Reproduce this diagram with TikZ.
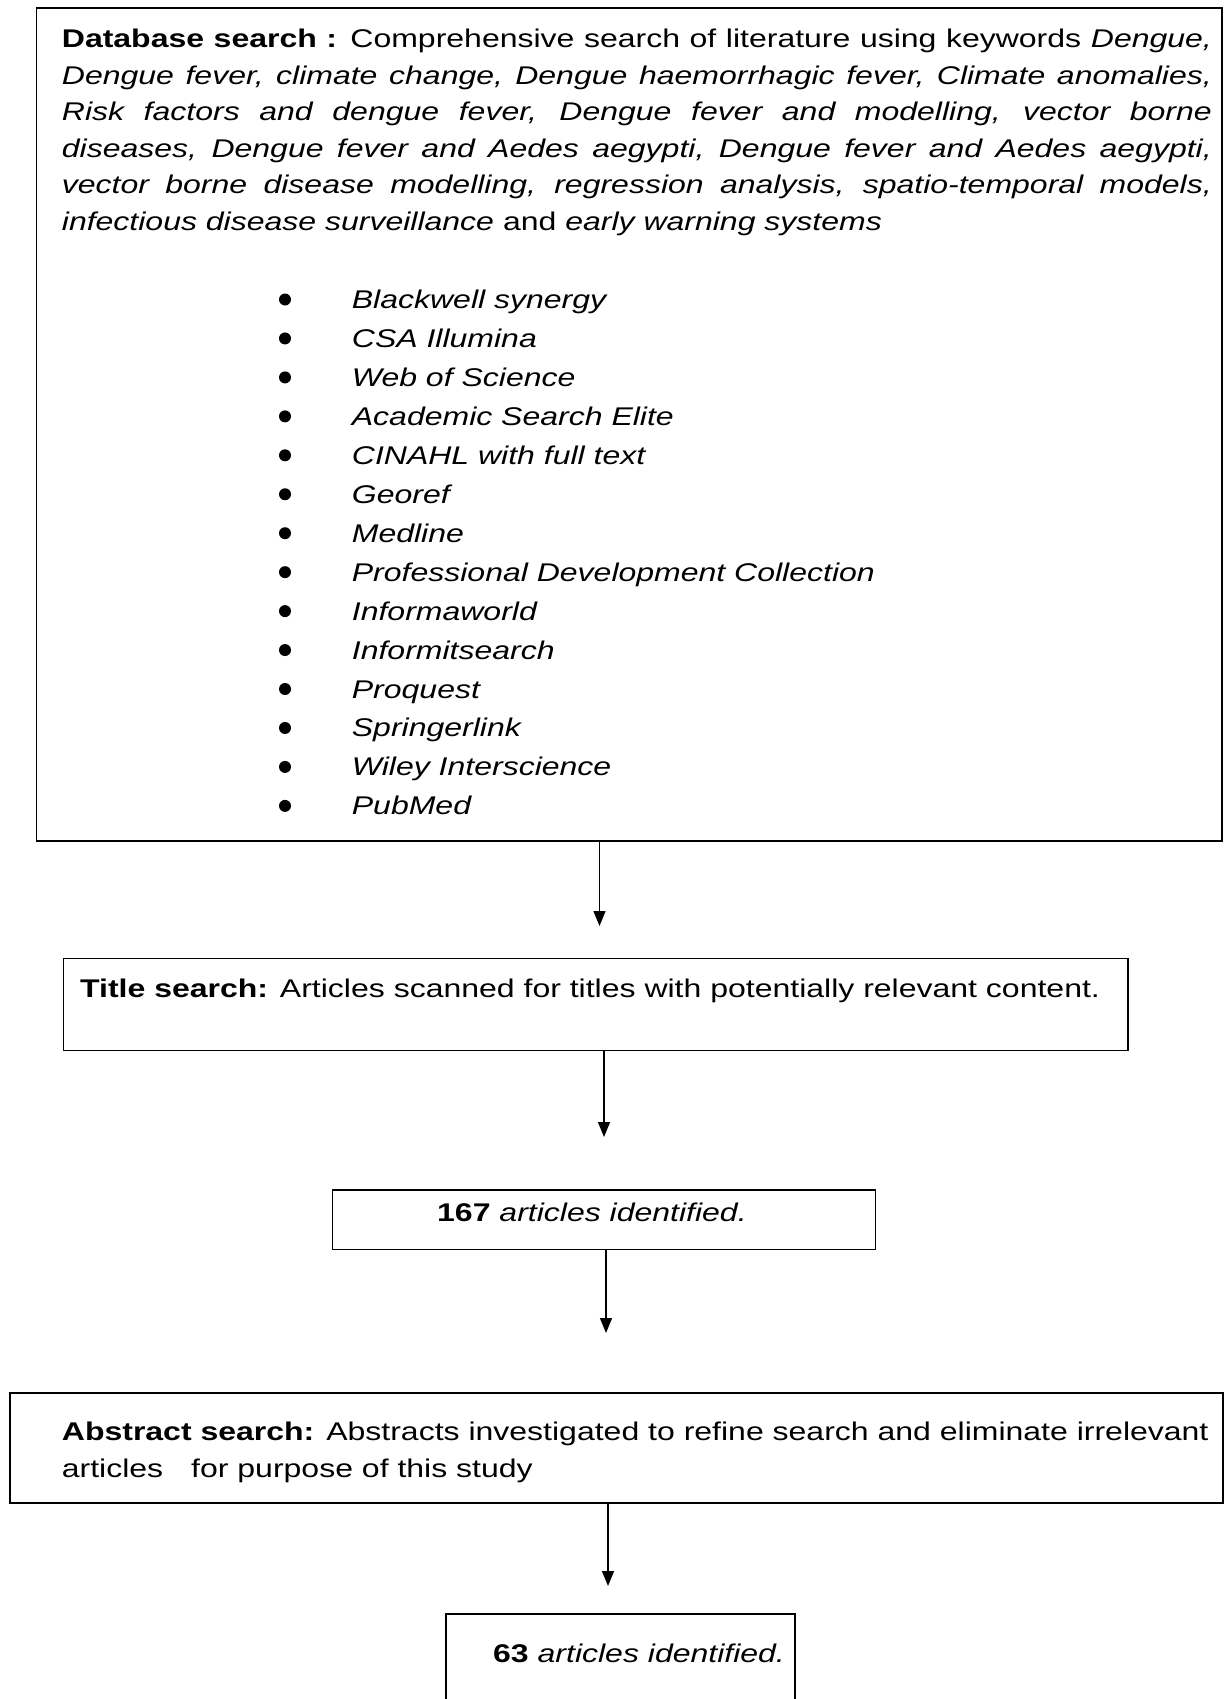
\documentclass[tikz,border=0pt]{standalone}
\usepackage{fontspec}
\setmainfont{Liberation Sans}[FakeStretch=1.25]
\usetikzlibrary{arrows.meta}
\begin{document}
\begin{tikzpicture}[x=1pt,y=-1pt,
  box/.style={draw=black,line width=1.6pt,inner sep=0pt,anchor=north west},
  arr/.style={line width=1.4pt,-{Triangle[length=15pt,width=12pt]}},
  txt/.style={inner sep=0pt,anchor=base west,font=\fontsize{25.6pt}{36.6pt}\selectfont}]
\useasboundingbox (0,0) rectangle (1224,1699);
\clip (0,0) rectangle (1224,1699);
\fill[white] (0,0) rectangle (1224,1699);
% boxes
\node[box,minimum width=1185.5pt,minimum height=833pt] (b1) at (35.5,7) {};
\node[box,minimum width=1064.5pt,minimum height=92pt] (b2) at (62.5,957.5) {};
\node[box,minimum width=543pt,minimum height=59.5pt] (b3) at (331.5,1189) {};
\node[box,minimum width=1213pt,minimum height=110pt] (b4) at (9,1392) {};
\node[box,minimum width=349pt,minimum height=130pt] (b5) at (445,1613) {};
% texts
\node[txt,text width=1150pt,align=justify] (p1) at (61.7,47.5)
 {\hyphenpenalty=10000\exhyphenpenalty=10000\tolerance=10000%
 \textbf{Database search :} Comprehensive search of literature using keywords \textit{Dengue,}\linebreak
 \textit{Dengue fever, climate change, Dengue haemorrhagic fever, Climate anomalies,}\linebreak
 \textit{Risk factors and dengue fever, Dengue fever and modelling, vector borne}\linebreak
 \textit{diseases, Dengue fever and Aedes aegypti, Dengue fever and Aedes aegypti,}\linebreak
 \textit{vector borne disease modelling, regression analysis, spatio-temporal models,}\linebreak
 \textit{infectious disease surveillance} and \textit{early warning systems}};
\node[txt,align=left,font=\fontsize{25.6pt}{38.95pt}\selectfont\itshape] (list) at (351.7,814.85)
 {Blackwell synergy\\CSA Illumina\\Web of Science\\Academic Search Elite\\CINAHL with full text\\Georef\\Medline\\Professional Development Collection\\Informaworld\\Informitsearch\\Proquest\\Springerlink\\Wiley Interscience\\PubMed};
\foreach \i in {0,...,13} \fill (285,299.5+38.95*\i) circle[radius=6pt];
\node[txt] (t2) at (80,997.5) {\textbf{Title search:} Articles scanned for titles with potentially relevant content.};
\node[txt] (t3) at (437,1221) {\textbf{167} \textit{articles identified.}};
\node[txt,align=left,font=\fontsize{25.6pt}{36.8pt}\selectfont] (t4) at (61.7,1477)
 {\textbf{Abstract search:} Abstracts investigated to refine search and eliminate irrelevant\\articles\hspace*{28pt}for purpose of this study};
\node[txt] (t5) at (493,1662) {\textbf{63} \textit{articles identified.}};
% arrows
\coordinate (e1) at (599.5,926);
\coordinate (e2) at (604,1137);
\coordinate (e3) at (606,1333);
\coordinate (e4) at (608,1586);
\draw[arr] (e1 |- b1.south) -- (e1);
\draw[arr] (e2 |- b2.south) -- (e2);
\draw[arr] (e3 |- b3.south) -- (e3);
\draw[arr] (e4 |- b4.south) -- (e4);
\end{tikzpicture}
\end{document}
